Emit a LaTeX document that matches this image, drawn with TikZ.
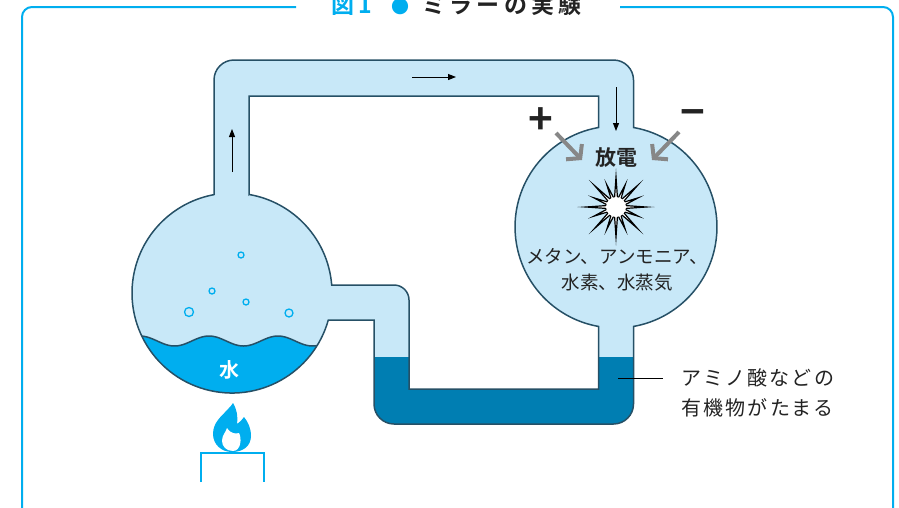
\documentclass[tikz,border=0pt]{standalone}
\usepackage{fontspec}
\setmainfont{Noto Sans CJK JP}[BoldFont={Noto Sans CJK JP Bold}]
\usetikzlibrary{arrows.meta}
\definecolor{gasblue}{RGB}{200,232,248}
\definecolor{waterblue}{RGB}{0,174,239}
\definecolor{liquidblue}{RGB}{0,126,178}
\definecolor{glassline}{RGB}{38,80,102}
\definecolor{inkgray}{RGB}{35,35,35}
\definecolor{polegray}{RGB}{135,135,135}
\newcommand{\ringouter}{(214,194.6) -- (214,80) arc[start angle=180, end angle=270, radius=20]
  -- (613.5,60) arc[start angle=270, end angle=360, radius=20] -- (633.5,127.5)
  arc[start angle=-80, end angle=80, radius=101]
  -- (633.5,404) arc[start angle=0, end angle=90, radius=20]
  -- (394,424) arc[start angle=90, end angle=180, radius=20]
  -- (374,320) -- (328.3,320) arc[start angle=15.66, end angle=259.6, radius=100] -- cycle}
\newcommand{\ringinner}{(249,194.5) -- (249,96) -- (598.5,96) -- (598.5,127.5)
  arc[start angle=260, end angle=100, radius=101]
  -- (598.5,389) -- (409,389) -- (409,300) arc[start angle=0, end angle=-90, radius=15]
  -- (331.7,285) arc[start angle=-4.59, end angle=-80.2, radius=100] -- cycle}
\tikzstyle{glass}=[draw=glassline, line width=1.5pt]
\tikzstyle{flowarrow}=[draw=black, line width=1pt, -{Triangle[length=8pt, width=6pt]}]
\tikzstyle{polearrow}=[draw=polegray, line width=4pt, -{Straight Barb[length=9pt, width=22pt]}]
\tikzstyle{bubble}=[draw=waterblue, line width=1.3pt]
\tikzstyle{sign}=[inner sep=0, text=inkgray, font=\fontsize{42}{42}\selectfont\bfseries]
\tikzstyle{jptext}=[inner sep=0, text=inkgray, font=\fontsize{18.5}{26}\selectfont]
\tikzstyle{spaced}=[inner sep=0, text=inkgray, align=left,
                    font=\fontsize{20}{30}\selectfont\addfontfeature{LetterSpace=11}]
\tikzstyle{titletext}=[inner sep=0, anchor=base,
                       font=\fontsize{23}{23}\selectfont\bfseries\addfontfeature{LetterSpace=18}]
\tikzset{declare function={sparkr(\k)=ifthenelse(mod(\k,2)==1,8,ifthenelse(mod(\k,4)==0,30,24));
                           wave(\t)=341-5*cos(5.2174*(\t-140));}}

\begin{document}
\begin{tikzpicture}[x=1pt, y=-1pt]
    \useasboundingbox (0,0) rectangle (899,507);
    \clip (0,0) rectangle (899,507);
    % frame with a gap for the heading
    \draw[waterblue, line width=2pt] (296,7) -- (32,7) arc[start angle=270, end angle=180, radius=10]
        -- (22,530);
    \draw[waterblue, line width=2pt] (620,7) -- (883,7) arc[start angle=270, end angle=360, radius=10]
        -- (893,530);
    \node[titletext, text=waterblue] (fignum) at (352,13) {図1};
    \node[titletext, text=waterblue, font=\fontsize{18}{18}\selectfont] (dot) at (400,13) {●};
    \node[titletext, text=inkgray] (title) at (502,13) {ミラーの実験};
    % gas in the apparatus
    \fill[gasblue, even odd rule] \ringouter \ringinner;
    % boiling water
    \begin{scope}
        \clip (232,293) circle[radius=100];
        \fill[waterblue] (120,341) -- plot[domain=125:340, samples=90] (\x, {wave(\x)})
            -- (340,400) -- (120,400) -- cycle;
        \draw[glass] plot[domain=125:340, samples=90] (\x, {wave(\x)});
    \end{scope}
    % collected liquid in the U tube
    \fill[liquidblue] (374,357) -- (374,404) arc[start angle=180, end angle=90, radius=20]
        -- (613.5,424) arc[start angle=90, end angle=0, radius=20] -- (633.5,357) -- (598.5,357)
        -- (598.5,389) -- (409,389) -- (409,357) -- cycle;
    \draw[glass] \ringouter;
    \draw[glass] \ringinner;
    % bubbles
    \draw[bubble] (241,255) circle[radius=3];
    \draw[bubble] (212,291) circle[radius=3];
    \draw[bubble] (246,302) circle[radius=3];
    \draw[bubble] (189,312) circle[radius=4.5];
    \draw[bubble] (289,313) circle[radius=4];
    \node[inner sep=0, text=white, font=\fontsize{20}{20}\selectfont\bfseries] (water) at (229,370) {水};
    % burner
    \fill[waterblue] (232,452) .. controls (221,452) and (213,444) .. (213,434)
        .. controls (213,422) and (222,416) .. (227,410) .. controls (230,407) and (232,405) .. (233,403)
        .. controls (237,410) and (238,416) .. (237,424) .. controls (240,422) and (242,420) .. (244,417)
        .. controls (248,422) and (251,428) .. (251,436) .. controls (251,446) and (243,452) .. (232,452) -- cycle;
    \fill[white] (233,451) .. controls (226,451) and (222,446) .. (222,441)
        .. controls (222,435) and (226,432) .. (227,428) .. controls (231,434) and (236,434) .. (239,433)
        .. controls (242,438) and (241,451) .. (233,451) -- cycle;
    \draw[waterblue, line width=2pt] (201,482) -- (201,453) -- (264,453) -- (264,482);
    % flow direction
    \coordinate (upA) at (232,172);
    \coordinate (upB) at (232,129);
    \coordinate (rightA) at (412,77);
    \coordinate (rightB) at (456,77);
    \coordinate (downA) at (616,87);
    \coordinate (downB) at (616,131);
    \draw[flowarrow] (upA) -- (upB);
    \draw[flowarrow] (rightA) -- (rightB);
    \draw[flowarrow] (downA) -- (downB);
    % electrodes and spark
    \node[sign] (plus) at (541,121) {+};
    \node[sign] (minus) at (693,119) {−};
    \coordinate (plusend) at (556,133);
    \coordinate (minusend) at (679,132);
    \coordinate (plustip) at (582,160);
    \coordinate (minustip) at (652,160);
    \draw[polearrow] (plusend) -- (plustip);
    \draw[polearrow] (minusend) -- (minustip);
    \node[jptext, font=\fontsize{21}{21}\selectfont\bfseries] (discharge) at (616,158) {放電};
    \filldraw[fill=white, draw=black, line width=1.2pt, miter limit=20]
        plot[samples at={0,1,...,31}, variable=\k]
        ({616+sparkr(\k)*cos(\k*11.25)}, {207+sparkr(\k)*sin(\k*11.25)}) -- cycle;
    \fill[white] (616,207) circle[radius=10];
    \node[jptext] (gases) at (617,256) {メタン、アンモニア、};
    \node[jptext] (gases2) at (617,283) {水素、水蒸気};
    % product
    \node[spaced, anchor=west] (amino) at (681,378) {アミノ酸などの};
    \node[spaced, anchor=west] (amino2) at (681,408) {有機物がたまる};
    \coordinate (liquidpt) at (618,378);
    \draw[black, line width=0.8pt] (liquidpt) -- ([xshift=-18pt]amino.west);
\end{tikzpicture}
\end{document}
